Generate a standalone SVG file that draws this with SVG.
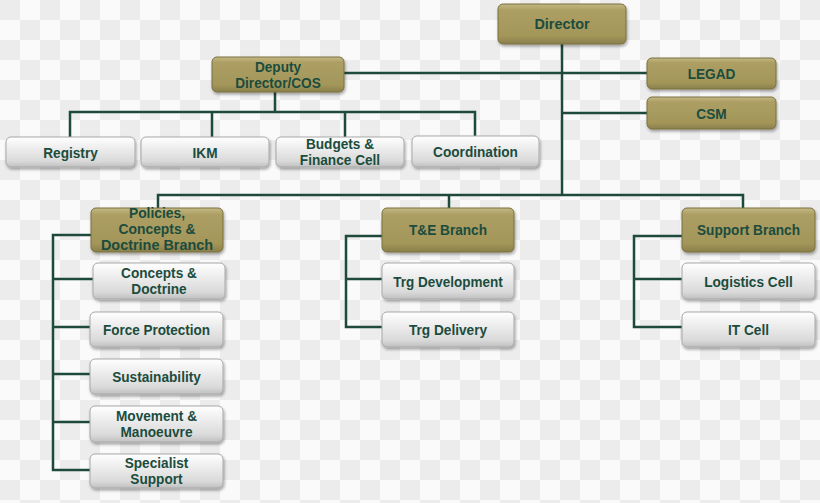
<svg xmlns="http://www.w3.org/2000/svg" width="820" height="503" viewBox="0 0 820 503">
<defs>
<pattern id="chk" x="0" y="0" width="40" height="40" patternUnits="userSpaceOnUse">
<rect width="40" height="40" fill="#fafafa"/>
<rect width="20" height="20" fill="#ececec"/>
<rect x="20" y="20" width="20" height="20" fill="#ececec"/>
</pattern>
<linearGradient id="gold" x1="0" y1="0" x2="0" y2="1">
<stop offset="0" stop-color="#c4b985"/>
<stop offset="0.15" stop-color="#ad9f64"/>
<stop offset="0.8" stop-color="#a39659"/>
<stop offset="1" stop-color="#8a7f4c"/>
</linearGradient>
<linearGradient id="grey" x1="0" y1="0" x2="0" y2="1">
<stop offset="0" stop-color="#ffffff"/>
<stop offset="0.25" stop-color="#f3f3f3"/>
<stop offset="0.8" stop-color="#dadada"/>
<stop offset="1" stop-color="#c0c0c0"/>
</linearGradient>
<filter id="sh" x="-10%" y="-20%" width="120%" height="150%">
<feDropShadow dx="1" dy="2" stdDeviation="1.5" flood-color="#000" flood-opacity="0.35"/>
</filter>
</defs>
<style>
.g{fill:url(#gold);stroke:#7a703f;stroke-width:1;filter:url(#sh)}
.s{fill:url(#grey);stroke:#a8a8a8;stroke-width:1;filter:url(#sh)}
text{font-family:"Liberation Sans",Arial,sans-serif;font-weight:bold;font-size:15px;fill:#1b4c3d;text-anchor:middle}
text.t{font-size:14px}
.c path{fill:none;stroke:#1d4a3c;stroke-width:2.5}
</style>
<rect width="820" height="503" fill="url(#chk)"/>
<g class="c" id="connectors">
<path d="M562,44 V195"/>
<path d="M344,73 H647"/>
<path d="M562,113 H647"/>
<path d="M275,92 V112"/>
<path d="M70,137 V112 H475 V136"/>
<path d="M212,112 V137"/>
<path d="M345,112 V137"/>
<path d="M158,208 V195 H743 V208"/>
<path d="M449,195 V208"/>
<path d="M91,235 H53 V470 H90"/>
<path d="M53,279 H93"/>
<path d="M53,327 H90"/>
<path d="M53,374 H90"/>
<path d="M53,422 H90"/>
<path d="M382,236 H346 V327 H382"/>
<path d="M346,279 H382"/>
<path d="M682,236 H634 V327 H682"/>
<path d="M634,279 H682"/>
</g>
<g id="director"><rect class="g" x="498" y="4" width="128" height="40" rx="5"/><text transform="translate(562 29) scale(0.96 1)">Director</text></g>
<g id="deputy"><rect class="g" x="212" y="57" width="132" height="35" rx="5"/><text class="t" transform="translate(278 72) scale(0.975 1)">Deputy</text><text class="t" transform="translate(278 88) scale(0.975 1)">Director/COS</text></g>
<g id="legad"><rect class="g" x="647" y="58" width="129" height="31" rx="5"/><text transform="translate(711.5 79) scale(0.91 1)">LEGAD</text></g>
<g id="csm"><rect class="g" x="647" y="97" width="129" height="32" rx="5"/><text transform="translate(711.5 118.5) scale(0.91 1)">CSM</text></g>
<g id="registry"><rect class="s" x="6" y="137" width="129" height="30" rx="5"/><text transform="translate(70.5 157.5) scale(0.91 1)">Registry</text></g>
<g id="ikm"><rect class="s" x="141" y="137" width="128" height="30" rx="5"/><text transform="translate(205 157.5) scale(0.91 1)">IKM</text></g>
<g id="budgets"><rect class="s" x="276" y="137" width="128" height="30" rx="5"/><text class="t" transform="translate(340 148.5) scale(0.975 1)">Budgets &amp;</text><text class="t" transform="translate(340 164.5) scale(0.975 1)">Finance Cell</text></g>
<g id="coordination"><rect class="s" x="412" y="136" width="127" height="31" rx="5"/><text transform="translate(475.5 156.5) scale(0.91 1)">Coordination</text></g>
<g id="pcd"><rect class="g" x="91" y="208" width="132" height="44" rx="5"/><text class="t" transform="translate(157 218) scale(0.99 1)">Policies,</text><text class="t" transform="translate(157 234) scale(0.99 1)">Concepts &amp;</text><text class="t" transform="translate(157 250) scale(1.03 1)">Doctrine Branch</text></g>
<g id="te"><rect class="g" x="382" y="208" width="132" height="44" rx="5"/><text transform="translate(448 235) scale(0.91 1)">T&amp;E Branch</text></g>
<g id="support"><rect class="g" x="682" y="208" width="133" height="44" rx="5"/><text transform="translate(748.5 235) scale(0.91 1)">Support Branch</text></g>
<g id="concepts"><rect class="s" x="93" y="263" width="132" height="36" rx="5"/><text class="t" transform="translate(159 277.5) scale(0.975 1)">Concepts &amp;</text><text class="t" transform="translate(159 293.5) scale(0.975 1)">Doctrine</text></g>
<g id="force"><rect class="s" x="90" y="312" width="133" height="35" rx="5"/><text transform="translate(156.5 334.5) scale(0.9 1)">Force Protection</text></g>
<g id="sustain"><rect class="s" x="90" y="359" width="133" height="35" rx="5"/><text transform="translate(156.5 382) scale(0.91 1)">Sustainability</text></g>
<g id="movement"><rect class="s" x="90" y="406" width="133" height="36" rx="5"/><text class="t" transform="translate(156.5 421) scale(0.975 1)">Movement &amp;</text><text class="t" transform="translate(156.5 437) scale(0.975 1)">Manoeuvre</text></g>
<g id="specialist"><rect class="s" x="90" y="454" width="133" height="34" rx="5"/><text class="t" transform="translate(156.5 468) scale(0.975 1)">Specialist</text><text class="t" transform="translate(156.5 484) scale(0.975 1)">Support</text></g>
<g id="trgdev"><rect class="s" x="382" y="263" width="132" height="36" rx="5"/><text transform="translate(448 286.5) scale(0.9 1)">Trg Development</text></g>
<g id="trgdel"><rect class="s" x="382" y="312" width="132" height="35" rx="5"/><text transform="translate(448 334.5) scale(0.91 1)">Trg Delivery</text></g>
<g id="logistics"><rect class="s" x="682" y="263" width="133" height="36" rx="5"/><text transform="translate(748.5 286.5) scale(0.91 1)">Logistics Cell</text></g>
<g id="itcell"><rect class="s" x="682" y="312" width="133" height="35" rx="5"/><text transform="translate(748.5 334.5) scale(0.91 1)">IT Cell</text></g>
</svg>
